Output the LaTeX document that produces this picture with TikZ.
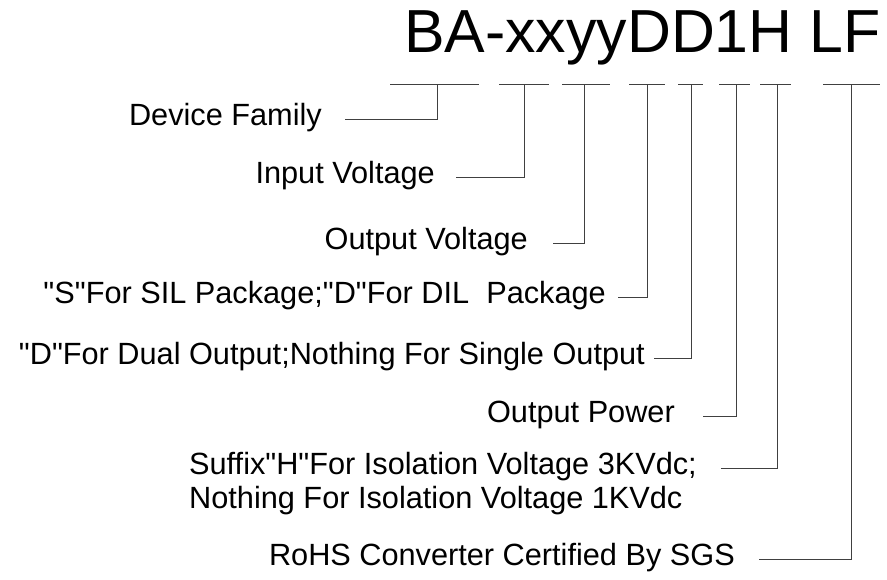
\documentclass[tikz,border=0pt]{standalone}
\usepackage{fontspec}
\setmainfont{Liberation Sans}[Ligatures=TeXOff]
\begin{document}
\begin{tikzpicture}[x=1pt,y=-1pt,
  lab/.style={inner sep=0pt, anchor=base east, font=\fontsize{30.7}{34}\selectfont},
  seg/.style={line width=1pt, draw=black!75},
  con/.style={line width=1pt, draw=black!75}]
\useasboundingbox[fill=white] (0,0) rectangle (887,579);
\node[inner sep=0pt, anchor=base west, font=\fontsize{60.8}{70}\selectfont] (title) at (404,52) {BA-xxyyDD1H LF};
% segment tops
\coordinate (t1) at (437,84);
\coordinate (t2) at (524,84);
\coordinate (t3) at (584,84);
\coordinate (t4) at (647,84);
\coordinate (t5) at (691,84);
\coordinate (t6) at (736,84);
\coordinate (t7) at (777,84);
\coordinate (t8) at (851,84);
\draw[seg] (390,84) -- (479,84);
\draw[seg] (499,84) -- (549,84);
\draw[seg] (562,84) -- (610,84);
\draw[seg] (629,84) -- (665,84);
\draw[seg] (678,84) -- (703,84);
\draw[seg] (719,84) -- (750,84);
\draw[seg] (760,84) -- (791,84);
\draw[seg] (823,84) -- (880,84);
% labels
\node[lab] (l1) at (322,125.7) {Device Family};
\node[lab] (l2) at (435,183) {Input Voltage};
\node[lab] (l3) at (528,249) {Output Voltage};
\node[lab] (l4) at (606,303) {"S"For SIL Package;"D"For DIL\ \ Package};
\node[lab] (l5) at (645,364) {"D"For Dual Output;Nothing For Single Output};
\node[lab] (l6) at (675,422) {Output Power};
\node[lab, anchor=base west] (l7) at (189,474) {Suffix"H"For Isolation Voltage 3KVdc;};
\node[lab, anchor=base west] (l7b) at (189,508) {Nothing For Isolation Voltage 1KVdc};
\node[lab] (l8) at (735,565) {RoHS Converter Certified By SGS};
% connectors
\draw[con] ([shift={(23,-6)}]l1.base east) -| (t1);
\draw[con] ([shift={(21,-6)}]l2.base east) -| (t2);
\draw[con] ([shift={(25,-6)}]l3.base east) -| (t3);
\draw[con] ([shift={(12,-6)}]l4.base east) -| (t4);
\draw[con] ([shift={(9,-6)}]l5.base east) -| (t5);
\draw[con] ([shift={(28,-6)}]l6.base east) -| (t6);
\draw[con] ([shift={(24,-6)}]l7.base east) -| (t7);
\draw[con] ([shift={(24,-6)}]l8.base east) -| (t8);
\end{tikzpicture}
\end{document}
